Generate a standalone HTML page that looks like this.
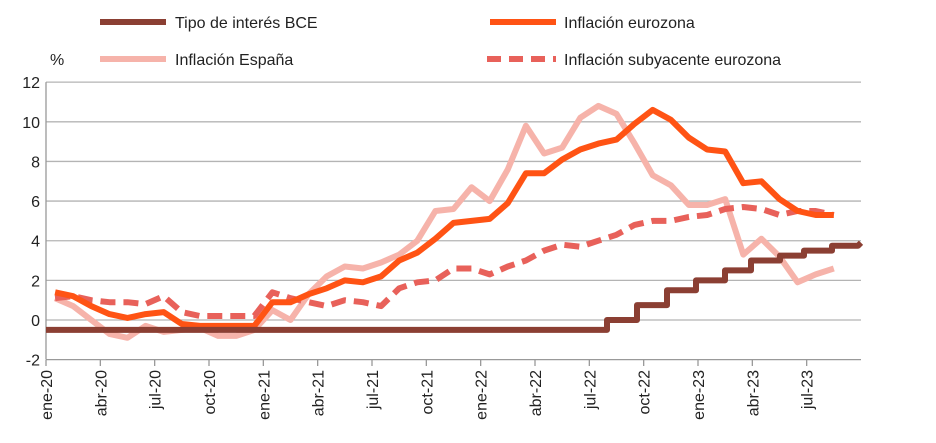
<!DOCTYPE html>
<html><head><meta charset="utf-8"><style>
body{margin:0;background:#fff;}
svg{display:block;font-family:"Liberation Sans",Arial,sans-serif;}
</style></head><body>
<svg id="s" width="936" height="443" viewBox="0 0 936 443" xmlns="http://www.w3.org/2000/svg">
<g font-size="16" fill="#222">
<line x1="100" y1="22" x2="166" y2="22" stroke="#8B3F33" stroke-width="6"/>
<text x="175" y="28">Tipo de interés BCE</text>
<line x1="490" y1="22" x2="556" y2="22" stroke="#FF5314" stroke-width="6"/>
<text x="564" y="28">Inflación eurozona</text>
<text x="50" y="65">%</text>
<line x1="100" y1="59" x2="166" y2="59" stroke="#F6B3AA" stroke-width="6"/>
<text x="175" y="65">Inflación España</text>
<line x1="487" y1="59" x2="556" y2="59" stroke="#E8615A" stroke-width="6" stroke-dasharray="14,8"/>
<text x="564" y="65">Inflación subyacente eurozona</text>
</g>
<g id="grid"></g>
<g id="series" fill="none" stroke-linejoin="round"></g>
</svg>
<script>
var s=document.getElementById('s'),g=document.getElementById('grid'),se=document.getElementById('series');
var L=46,R=861,Y0=320,U=19.82,W=(R-L)/45;
function y(v){return Y0-v*U}
function el(p,t,a,txt){var e=document.createElementNS('http://www.w3.org/2000/svg',t);for(var k in a)e.setAttribute(k,a[k]);if(txt)e.textContent=txt;p.appendChild(e);return e}
for(var v=-2;v<=12;v+=2){
 if(v>-2)el(g,'line',{x1:L,x2:R,y1:y(v),y2:y(v),stroke:'#b4b4b4','stroke-width':1.3});
 el(g,'text',{x:40,y:y(v)+6,'text-anchor':'end','font-size':16,fill:'#222'},String(v));
}
el(g,'line',{x1:L,x2:R,y1:y(-2),y2:y(-2),stroke:'#999','stroke-width':1.3});
el(g,'line',{x1:L,x2:L,y1:y(12),y2:y(-2),stroke:'#999','stroke-width':1.3});
var labs=['ene-20','abr-20','jul-20','oct-20','ene-21','abr-21','jul-21','oct-21','ene-22','abr-22','jul-22','oct-22','ene-23','abr-23','jul-23'];
for(var i=0;i<15;i++){var x=L+i*3*W;
 el(g,'line',{x1:x,x2:x,y1:360,y2:366,stroke:'#999','stroke-width':1.3});
 el(g,'text',{transform:'translate('+(x+6)+',370) rotate(-90)','text-anchor':'end','font-size':16,fill:'#222'},labs[i]);
}
function line(d,c,w,dash){var p=d.map(function(v,i){return (L+W*(i+0.5)).toFixed(1)+','+y(v).toFixed(1)}).join(' ');
 var a={points:p,stroke:c,'stroke-width':w};if(dash)a['stroke-dasharray']=dash;el(se,'polyline',a)}
var esp=[1.1,0.7,0.0,-0.7,-0.9,-0.3,-0.6,-0.5,-0.4,-0.8,-0.8,-0.5,0.5,0.0,1.3,2.2,2.7,2.6,2.9,3.3,4.0,5.5,5.6,6.7,6.0,7.6,9.8,8.4,8.7,10.2,10.8,10.4,8.9,7.3,6.8,5.8,5.8,6.1,3.3,4.1,3.2,1.9,2.3,2.6];
var cor=[1.1,1.2,1.0,0.9,0.9,0.8,1.2,0.4,0.2,0.2,0.2,0.2,1.4,1.1,0.9,0.7,1.0,0.9,0.7,1.6,1.9,2.0,2.6,2.6,2.3,2.7,3.0,3.5,3.8,3.7,4.0,4.3,4.8,5.0,5.0,5.2,5.3,5.6,5.7,5.6,5.3,5.5,5.5,5.3];
var ez=[1.4,1.2,0.7,0.3,0.1,0.3,0.4,-0.2,-0.3,-0.3,-0.3,-0.3,0.9,0.9,1.3,1.6,2.0,1.9,2.2,3.0,3.4,4.1,4.9,5.0,5.1,5.9,7.4,7.4,8.1,8.6,8.9,9.1,9.9,10.6,10.1,9.2,8.6,8.5,6.9,7.0,6.1,5.5,5.3,5.3];
line(esp,'#F6B3AA',6);
line(cor,'#E8615A',6,'15,8');
line(ez,'#FF5314',6);
var st=[[607,0],[637,0.75],[667,1.5],[696,2.0],[725,2.5],[751,3.0],[780,3.25],[804,3.5],[832,3.75]];
var pts=[[L,-0.5]];var cur=-0.5;st.forEach(function(s){pts.push([s[0],cur]);pts.push([s[0],s[1]]);cur=s[1]});pts.push([858,cur]);pts.push([861,3.9]);
el(se,'polyline',{points:pts.map(function(p){return p[0]+','+y(p[1]).toFixed(1)}).join(' '),stroke:'#8B3F33','stroke-width':6});
</script>
</body></html>
